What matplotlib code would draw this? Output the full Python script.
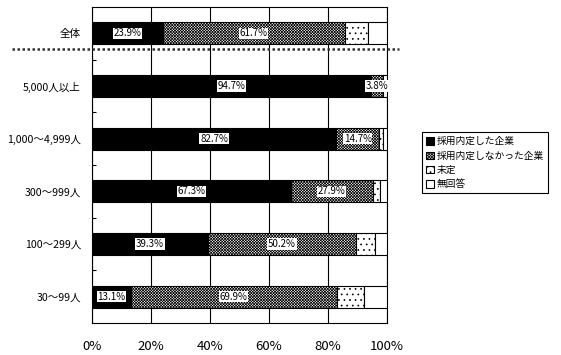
import numpy as np
import matplotlib
matplotlib.use("Agg")
import matplotlib.pyplot as plt
from matplotlib.transforms import blended_transform_factory

plt.rcParams['font.family'] = ['Noto Sans CJK JP', 'DejaVu Sans']
plt.rcParams['hatch.linewidth'] = 0.5

# data (percent)
categories = ['全体', '5,000人以上', '1,000～4,999人', '300～999人', '100～299人', '30～99人']
series_names = ['採用内定した企業', '採用内定しなかった企業', '未定', '無回答']
naitei = [23.9, 94.7, 82.7, 67.3, 39.3, 13.1]
nashi = [61.7, 3.8, 14.7, 27.9, 50.2, 69.9]
mitei = [8.0, 0.0, 1.3, 2.4, 6.4, 9.2]
mukaito = [6.4, 1.5, 1.3, 2.4, 4.1, 7.8]
xticks = [0, 20, 40, 60, 80, 100]

fig = plt.figure(figsize=(5.61, 3.55), dpi=100)
ax = fig.add_axes([0.164, 0.090, 0.526, 0.890])

y = np.arange(len(categories))
h = 0.42
styles = [
    dict(color='black', hatch=None),
    dict(color='white', hatch='xxxxxxxxxxxx'),
    dict(color='white', hatch='...'),
    dict(color='white', hatch=None),
]
left = np.zeros(len(categories))
for vals, name, st in zip([naitei, nashi, mitei, mukaito], series_names, styles):
    vals = np.array(vals)
    ax.barh(y, vals, left=left, height=h, color=st['color'], hatch=st['hatch'],
            edgecolor='black', linewidth=0.8, label=name, zorder=3)
    left = left + vals

# value labels for the first two series
for i in range(len(categories)):
    ax.text(naitei[i] / 2, y[i], f'{naitei[i]:.1f}%', ha='center', va='center',
            fontsize=7, zorder=5,
            bbox=dict(facecolor='white', edgecolor='none', pad=0.5))
    ax.text(naitei[i] + nashi[i] / 2, y[i], f'{nashi[i]:.1f}%', ha='center', va='center',
            fontsize=7, zorder=5,
            bbox=dict(facecolor='white', edgecolor='none', pad=0.5))

ax.set_xlim(0, 100)
ax.set_ylim(len(categories) - 0.5, -0.5)
ax.set_xticks(xticks)
ax.set_xticklabels([f'{v}%' for v in xticks], fontsize=9.5)
ax.set_yticks(y)
ax.set_yticklabels(categories, fontsize=7.6)
ax.set_yticks(y[:-1] + 0.5, minor=True)
ax.tick_params(axis='x', length=0, pad=12)
ax.tick_params(axis='y', which='major', length=0, pad=8)
ax.tick_params(axis='y', which='minor', direction='in', length=3, width=0.8)
ax.grid(axis='x', color='black', linewidth=0.8, zorder=0)
for sp in ax.spines.values():
    sp.set_linewidth(0.8)
    sp.set_color('black')

# dotted separator under 全体
tr = blended_transform_factory(ax.transAxes, ax.transData)
ax.plot([-0.27, 1.04], [0.3, 0.3], transform=tr, color='#333333', linestyle=(0, (1, 1)),
        linewidth=1.8, clip_on=False, zorder=6)

leg = fig.legend(loc='upper left', bbox_to_anchor=(0.752, 0.627), fontsize=7,
                 frameon=True, fancybox=False, edgecolor='black', framealpha=1,
                 handlelength=0.8, handleheight=0.8, handletextpad=0.3,
                 labelspacing=0.45, borderpad=0.4, borderaxespad=0)
leg.get_frame().set_linewidth(0.8)

fig.savefig('out.png', dpi=100)
